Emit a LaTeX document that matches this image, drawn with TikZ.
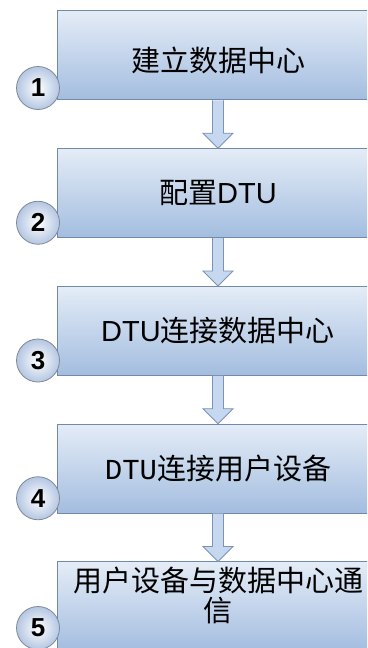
\documentclass[tikz,border=0pt]{standalone}
\usepackage{fontspec}
\setmainfont{Liberation Sans}
\newfontfamily\cjk{Noto Sans CJK SC}
\newfontfamily\dtumono{Liberation Mono}
\usetikzlibrary{calc}
\usetikzlibrary{positioning}

\definecolor{boxtop}{HTML}{E4ECF7}
\definecolor{boxbot}{HTML}{A3BDDF}
\definecolor{boxline}{HTML}{7389A8}
\definecolor{numblue}{HTML}{B4C6E2}
\definecolor{numline}{HTML}{7E8898}
\definecolor{arrowfill}{HTML}{C6D8EF}
\definecolor{arrowline}{HTML}{7C93B6}

\newcommand\flowarrow[2]{%
\filldraw[flow] ($(#1.south)+(-5.5,0)$) -- ($(#2.north)+(-5.5,15)$) -- ++(-9.5,0) -- (#2.north)
  -- ($(#2.north)+(15,15)$) -- ++(-9.5,0) -- ($(#1.south)+(5.5,0)$);
}

\begin{document}
\begin{tikzpicture}[x=1pt, y=1pt,
  stepbox/.style={draw=boxline, line width=1pt, top color=boxtop, bottom color=boxbot,
    minimum width=322pt, minimum height=89pt, inner sep=0pt, align=center,
    font=\fontsize{29}{30}\selectfont\cjk},
  stepnum/.style={circle, draw=numline, line width=0.8pt, inner color=white, outer color=numblue,
    minimum size=43pt, inner sep=0pt, font=\fontsize{26}{26}\selectfont\bfseries},
  flow/.style={draw=arrowline, fill=arrowfill, line width=0.8pt}]
\clip (0,0) rectangle (367,648);

\node[stepbox] (s1) at (218,592.5) {};
\node[font=\fontsize{29}{30}\selectfont\cjk] (t1) at ($(s1)+(0,-5)$) {建立数据中心};
\node[stepbox] (s2) at (218,454.75) {配置{\fontspec{Liberation Sans}DTU}};
\node[stepbox] (s3) at (218,317) {{\fontspec{Liberation Sans}DTU}连接数据中心};
\node[stepbox] (s4) at (218,179.25) {{\dtumono DTU}连接用户设备};
\node[stepbox] (s5) at (218,41.5) {};
\node[font=\fontsize{29}{30}\selectfont\cjk, align=center] (t5) at ($(s5)+(0,11)$) {用户设备与数据中心通\\信};

\foreach \i/\dy in {1/-3,2/0,3/0,4/0,5/8} {
 \node[stepnum, anchor=south east] (n\i) at ($(s\i.south west)+(-3,\dy)$) {\i};
}

\flowarrow{s1}{s2}
\flowarrow{s2}{s3}
\flowarrow{s3}{s4}
\flowarrow{s4}{s5}

\end{tikzpicture}
\end{document}
